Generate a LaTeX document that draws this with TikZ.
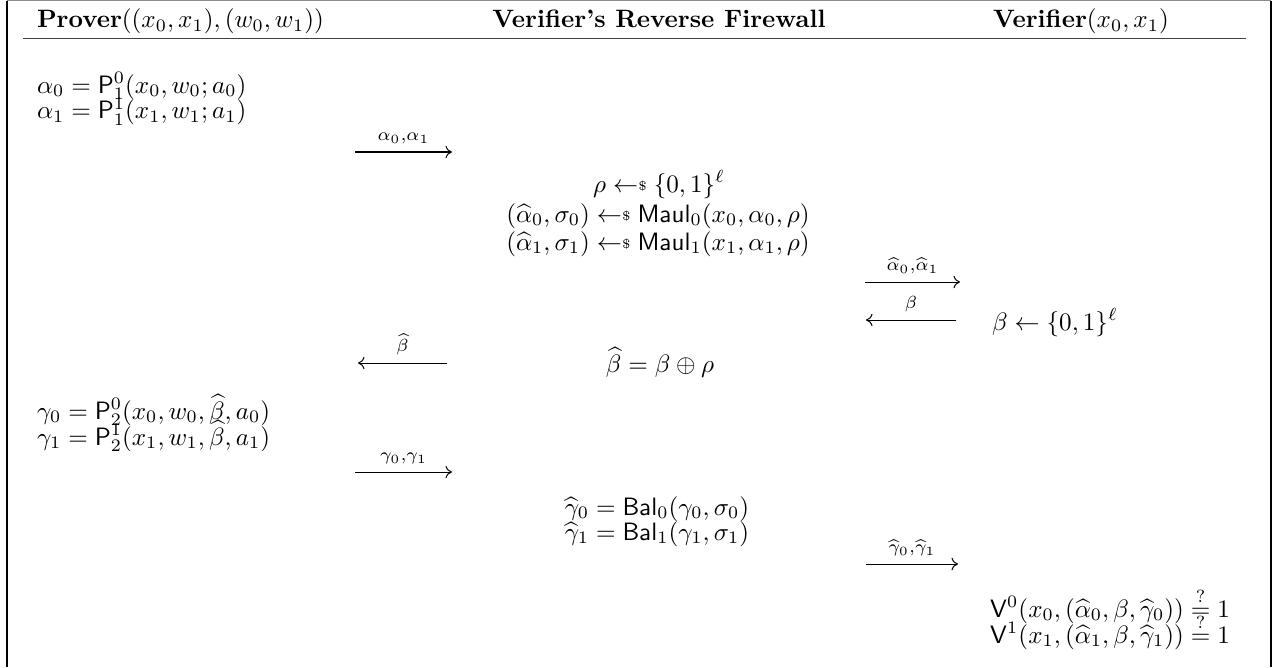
\documentclass[tikz,border=0pt]{standalone}
\usepackage{amsmath,amssymb}
\usetikzlibrary{arrows.meta}
\newcommand{\getsr}{\mathrel{\leftarrow\mkern-5mu\vcenter{\hbox{$\scriptscriptstyle\$$}}}}
\newcommand{\qeq}{\mathrel{\overset{?}{=}}}
\begin{document}
\begin{tikzpicture}[x=0.398pt,y=-0.398pt,
  txt/.style={inner sep=0pt,outer sep=0pt},
  msg/.style={line width=0.4pt,-{To[length=2.6pt,width=5pt]}},
  lbl/.style={inner sep=0pt},
  frame/.style={line width=0.8pt},
  hrule/.style={line width=0.5pt,draw=black!75}]
\useasboundingbox (0,0) rectangle (1279,667);
% frame
\coordinate (tl) at (7,0.6);
\coordinate (tr) at (1271,0.6);
\coordinate (bl) at (7,667);
\coordinate (br) at (1271,667);
\draw[line width=0.4pt,draw=black!45] (tl) -- (tr);
\draw[frame] (tl) -- (bl);
\draw[frame] (tr) -- (br);
\coordinate (hl) at (23,38.5);
\coordinate (hr) at (1246,38.5);
\draw[hrule] (hl) -- (hr);
% headers
\node[txt,anchor=base west] (hP) at (37,28) {\textbf{Prover}$((x_0,x_1),(w_0,w_1))$};
\node[txt,anchor=base] (hF) at (659,28) {\textbf{Verifier's Reverse Firewall}};
\node[txt,anchor=base] (hV) at (1081,28) {\textbf{Verifier}$(x_0,x_1)$};
% prover round 1
\node[txt,anchor=base west] (a0) at (37,93) {$\alpha_0=\mathsf{P}_1^0(x_0,w_0;a_0)$};
\node[txt,anchor=base west] (a1) at (37,119) {$\alpha_1=\mathsf{P}_1^1(x_1,w_1;a_1)$};
\coordinate (m1s) at (355,152);
\coordinate (m1e) at (452,152);
\draw[msg] (m1s) -- (m1e) node[lbl,midway,above=3pt] (l1) {$\scriptstyle\alpha_0,\alpha_1$};
% firewall
\node[txt,anchor=base] (r0) at (659,192) {$\rho\getsr\{0,1\}^\ell$};
\node[txt,anchor=base] (r1) at (658,222) {$(\widehat{\alpha}_0,\sigma_0)\getsr\mathsf{Maul}_0(x_0,\alpha_0,\rho)$};
\node[txt,anchor=base] (r2) at (658,250) {$(\widehat{\alpha}_1,\sigma_1)\getsr\mathsf{Maul}_1(x_1,\alpha_1,\rho)$};
\coordinate (m2s) at (865,282);
\coordinate (m2e) at (960,282);
\draw[msg] (m2s) -- (m2e) node[lbl,midway,above=3pt] (l2) {$\scriptstyle\widehat{\alpha}_0,\widehat{\alpha}_1$};
\coordinate (m3s) at (956,320);
\coordinate (m3e) at (866,320);
\draw[msg] (m3s) -- (m3e) node[lbl,midway,above=3pt] (l3) {$\scriptstyle\beta$};
\node[txt,anchor=base west] (b0) at (992,330) {$\beta\leftarrow\{0,1\}^\ell$};
\coordinate (m4s) at (447,363);
\coordinate (m4e) at (358,363);
\draw[msg] (m4s) -- (m4e) node[lbl,midway,above=3pt] (l4) {$\scriptstyle\widehat{\beta}$};
\node[txt,anchor=base] (bh) at (660,372) {$\widehat{\beta}=\beta\oplus\rho$};
% prover round 2
\node[txt,anchor=base west] (g0) at (37,419) {$\gamma_0=\mathsf{P}_2^0(x_0,w_0,\widehat{\beta},a_0)$};
\node[txt,anchor=base west] (g1) at (37,445) {$\gamma_1=\mathsf{P}_2^1(x_1,w_1,\widehat{\beta},a_1)$};
\coordinate (m5s) at (355,472);
\coordinate (m5e) at (452,472);
\draw[msg] (m5s) -- (m5e) node[lbl,midway,above=3pt] (l5) {$\scriptstyle\gamma_0,\gamma_1$};
\node[txt,anchor=base] (gh0) at (657,515) {$\widehat{\gamma}_0=\mathsf{Bal}_0(\gamma_0,\sigma_0)$};
\node[txt,anchor=base] (gh1) at (657,540) {$\widehat{\gamma}_1=\mathsf{Bal}_1(\gamma_1,\sigma_1)$};
\coordinate (m6s) at (866,564);
\coordinate (m6e) at (958,564);
\draw[msg] (m6s) -- (m6e) node[lbl,midway,above=3pt] (l6) {$\scriptstyle\widehat{\gamma}_0,\widehat{\gamma}_1$};
% verifier checks
\node[txt,anchor=base] (v0) at (1110,617) {$\mathsf{V}^0(x_0,(\widehat{\alpha}_0,\beta,\widehat{\gamma}_0))\qeq1$};
\node[txt,anchor=base] (v1) at (1110,643) {$\mathsf{V}^1(x_1,(\widehat{\alpha}_1,\beta,\widehat{\gamma}_1))\qeq1$};
\end{tikzpicture}
\end{document}
